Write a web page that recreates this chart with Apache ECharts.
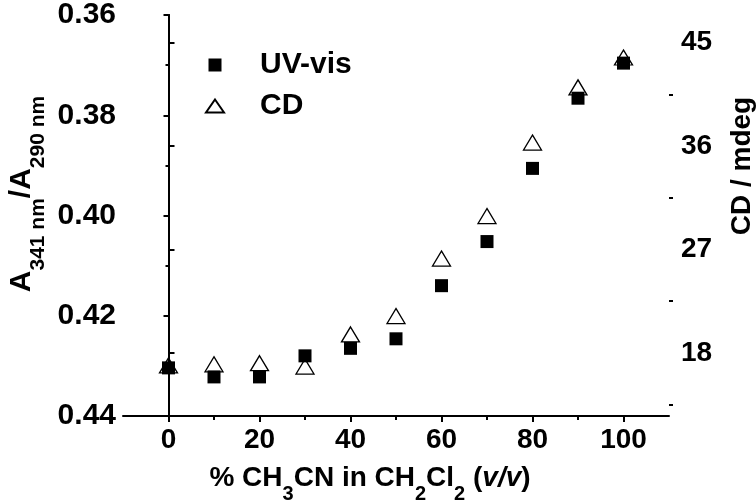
<!DOCTYPE html>
<html>
<head>
<meta charset="utf-8">
<script src="https://cdn.jsdelivr.net/npm/echarts@6/dist/echarts.min.js"></script>
<style>html,body{margin:0;padding:0;background:#fff}#c{width:756px;height:502px}</style>
</head>
<body>
<div id="c"></div>
<script>
const xValues = [0, 10, 20, 30, 40, 50, 60, 70, 80, 90, 100];
const uvRatio = [0.4304, 0.4322, 0.4322, 0.4280, 0.4265, 0.4246, 0.4140, 0.4052, 0.3906, 0.3766, 0.3696];
const cdValues = [16.9, 17.0, 17.1, 16.8, 19.6, 21.2, 26.2, 29.9, 36.3, 41.1, 43.7];
const xMajorTicks = [0, 20, 40, 60, 80, 100];
const xMinorTicks = [10, 30, 50, 70, 90];
const cdMajorTicks = [18, 27, 36, 45];
const cdMinorTicks = [13.5, 22.5, 31.5, 40.5];

const FONT = 'Liberation Sans';
const black = '#000';
const chart = echarts.init(document.getElementById('c'), null, {renderer: 'canvas'});

const uvData = xValues.map((x, i) => [x, uvRatio[i]]);
const cdData = xValues.map((x, i) => [x, cdValues[i]]);

const lbl = (size) => ({color: black, fontFamily: FONT, fontWeight: 'bold', fontSize: size});

chart.setOption({
  animation: false,
  backgroundColor: '#fff',
  grid: {left: 123, right: 87, top: 15, bottom: 86, containLabel: false},
  legend: {
    orient: 'vertical',
    left: 200, top: 45,
    itemWidth: 80, itemHeight: 13, itemGap: 11,
    symbolKeepAspect: true,
    textStyle: Object.assign(lbl(30), {lineHeight: 30}),
    data: [
      {name: 'UV-vis', icon: 'path://M0,0L10,0L10,10L0,10Z'},
      {name: 'CD', icon: 'path://M9,0L18,13L0,13Z'}
    ]
  },
  xAxis: [
    {
      type: 'value', min: -10, max: 110, position: 'bottom',
      axisLine: {show: true, lineStyle: {color: black, width: 2}},
      axisTick: {show: true, customValues: xMajorTicks, length: 6, lineStyle: {color: black, width: 2}},
      axisLabel: Object.assign(lbl(28), {customValues: xMajorTicks, margin: 10}),
      splitLine: {show: false}
    },
    {
      type: 'value', min: -10, max: 110, position: 'bottom',
      axisLine: {show: false},
      axisTick: {show: true, customValues: xMinorTicks, length: 4, lineStyle: {color: black, width: 2}},
      axisLabel: {show: false},
      splitLine: {show: false}
    }
  ],
  yAxis: [
    {
      type: 'value', min: 0.36, max: 0.44, interval: 0.02, inverse: true, position: 'left',
      axisLine: {show: true, lineStyle: {color: black, width: 2}},
      axisTick: {show: true, length: 5, lineStyle: {color: black, width: 2}},
      minorTick: {show: true, splitNumber: 2, length: 3, lineStyle: {color: black, width: 2}},
      axisLabel: Object.assign(lbl(30), {margin: 7, formatter: v => v.toFixed(2)}),
      splitLine: {show: false}
    },
    {
      type: 'value', min: 12.5, max: 47.4, position: 'right',
      axisLine: {show: true, lineStyle: {color: black, width: 2}},
      axisTick: {show: true, customValues: cdMajorTicks, length: 6, lineStyle: {color: black, width: 2}},
      axisLabel: Object.assign(lbl(28), {customValues: cdMajorTicks, margin: 12}),
      splitLine: {show: false}
    },
    {
      type: 'value', min: 12.5, max: 47.4, position: 'right',
      axisLine: {show: false},
      axisTick: {show: true, customValues: cdMinorTicks, length: 4, lineStyle: {color: black, width: 2}},
      axisLabel: {show: false},
      splitLine: {show: false}
    }
  ],
  series: [
    {
      name: 'UV-vis', type: 'scatter', xAxisIndex: 0, yAxisIndex: 0,
      symbol: 'rect', symbolSize: 13, z: 2,
      itemStyle: {color: black, opacity: 1},
      data: uvData
    },
    {
      name: 'CD', type: 'scatter', xAxisIndex: 0, yAxisIndex: 1,
      symbol: 'triangle', symbolSize: [18, 15], z: 3,
      itemStyle: {color: 'rgba(0,0,0,0)', borderColor: black, borderWidth: 1.3, opacity: 1},
      data: cdData
    }
  ],
  graphic: [
    {
      type: 'text', x: 28, y: 194, rotation: Math.PI / 2,
      style: {
        text: '{a|A}{s|341 nm}{a|/A}{s|290 nm}',
        align: 'center', verticalAlign: 'middle', fill: black,
        rich: {
          a: {fontFamily: FONT, fontWeight: 'bold', fontSize: 30, lineHeight: 30, verticalAlign: 'top', fill: black},
          s: {fontFamily: FONT, fontWeight: 'bold', fontSize: 21, lineHeight: 42, verticalAlign: 'bottom', fill: black}
        }
      }
    },
    {
      type: 'text', x: 742, y: 166, rotation: Math.PI / 2,
      style: {
        text: 'CD / mdeg', align: 'center', verticalAlign: 'middle', fill: black,
        font: 'bold 28px "Liberation Sans"'
      }
    },
    {
      type: 'text', x: 370, y: 484,
      style: {
        text: '{a|% CH}{s|3}{a|CN in CH}{s|2}{a|Cl}{s|2}{a| (}{i|v/v}{a|)}',
        align: 'center', verticalAlign: 'middle', fill: black,
        rich: {
          a: {fontFamily: FONT, fontWeight: 'bold', fontSize: 28, lineHeight: 28, verticalAlign: 'top', fill: black},
          i: {fontFamily: FONT, fontWeight: 'bold', fontStyle: 'italic', fontSize: 28, lineHeight: 28, verticalAlign: 'top', fill: black},
          s: {fontFamily: FONT, fontWeight: 'bold', fontSize: 20, lineHeight: 40, verticalAlign: 'bottom', fill: black}
        }
      }
    }
  ]
});
</script>
</body>
</html>
